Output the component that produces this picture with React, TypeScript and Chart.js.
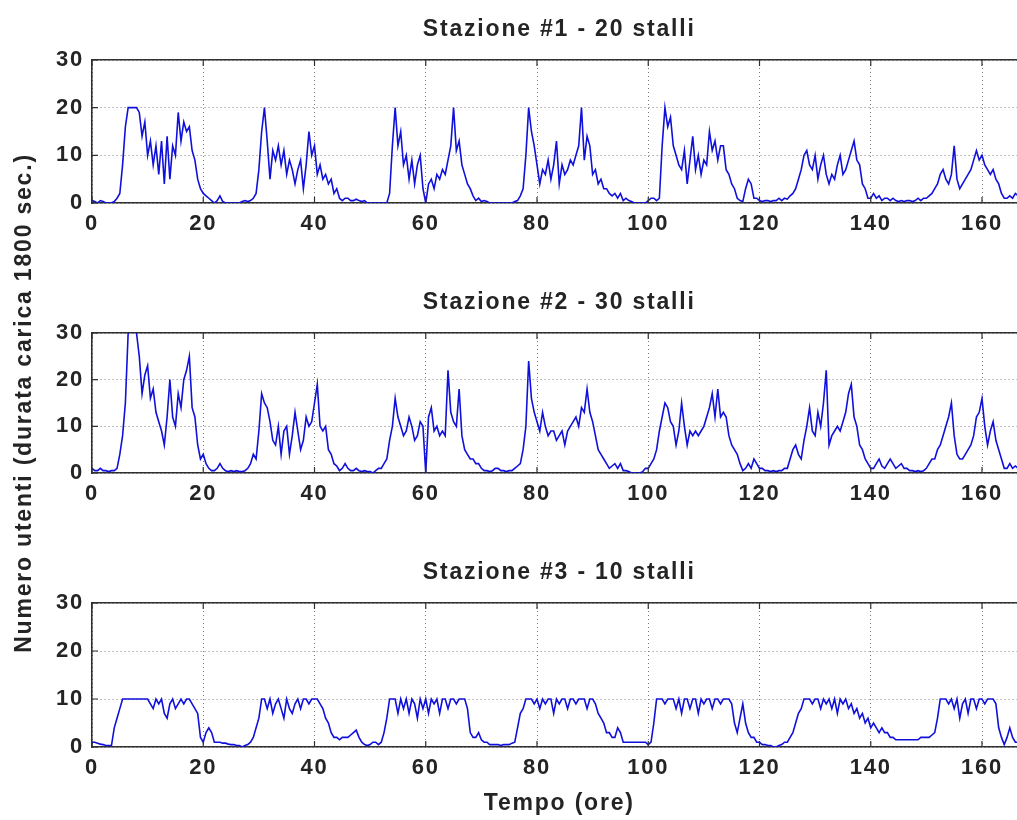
import React, { useEffect, useRef } from 'react';
import { Chart, registerables } from 'chart.js';

Chart.register(...registerables);

// ---------------- data ----------------
const STEP_H = 0.5; // sampling step of the series (hours)
const X_MAX = 168;
const X_STEP = 20;
const Y_MAX = 30;
const Y_STEP = 10;

const PANEL_TITLES = ['Stazione #1 - 20 stalli', 'Stazione #2 - 30 stalli', 'Stazione #3 - 10 stalli'];
const Y_LABEL = 'Numero utenti (durata carica 1800 sec.)';
const X_LABEL = 'Tempo (ore)';

const STATION1 = [
  0.5, 0.3, 0, 0.5, 0.3, 0, 0, 0, 0.3, 1, 2, 8, 16, 20, 20, 20, 20, 19, 14, 17, 10, 13, 8, 12,
  6, 13, 4, 14, 5, 12, 10, 19, 13, 17, 15, 16, 11, 9, 5, 3, 2, 1.5, 1, 0.5, 0, 0.5, 1.5, 0.3,
  0, 0, 0, 0, 0, 0, 0.3, 0.5, 0.3, 0.5, 1, 2, 7, 15, 20, 13, 5, 11, 9, 12, 8, 11, 6, 9,
  7, 4, 7, 9, 3, 8, 15, 10, 12, 6, 8, 5, 6, 4, 5, 2, 3, 1, 0.5, 1, 1, 0.5, 0.5, 0.8,
  0.5, 0.3, 0.5, 0, 0, 0, 0, 0, 0, 0, 0, 2, 12, 20, 12, 15, 8, 10, 5, 9, 4, 8, 10, 3,
  0, 4, 5, 3, 6, 5, 7, 6, 9, 12, 20, 11, 13, 8, 6, 4, 3, 1.5, 0.5, 1, 0.3, 0.5, 0.3, 0,
  0, 0, 0, 0, 0, 0, 0, 0, 0.3, 0.5, 1.5, 3, 10, 20, 15, 12, 8, 4, 7, 6, 9, 5, 8, 13,
  4, 8, 6, 7, 9, 8, 10, 12, 20, 9, 14, 12, 6, 7, 4, 5, 3, 3, 2, 1.5, 2, 1, 2, 0.5,
  1, 0.5, 0.3, 0, 0, 0, 0, 0, 0.5, 1, 1, 0.5, 1, 12, 20, 16, 18, 12, 10, 8, 7, 11, 4, 9,
  14, 7, 10, 6, 9, 8, 15, 11, 13, 9, 12, 12, 7, 6, 4, 3, 1, 0.5, 0.3, 3, 5, 4, 1, 1,
  0.5, 0.3, 0.5, 0.5, 0.3, 0.5, 0.5, 1, 0.5, 1, 0.8, 1.5, 2, 3, 5, 7, 10, 11, 8, 7, 10, 5, 8, 10,
  6, 4, 6, 5, 8, 10, 6, 7, 9, 11, 13, 9, 8, 4, 3, 1, 1, 2, 1, 1.5, 0.5, 1, 1, 0.5,
  1, 0.5, 0.3, 0.5, 0.3, 0.5, 0.5, 0.3, 0.5, 1, 0.5, 1, 1, 1.5, 2, 3, 4, 6, 7, 5, 4, 6, 12, 5,
  3, 4, 5, 6, 7, 9, 11, 9, 10, 8, 7, 6, 7, 5, 4, 2, 1, 1, 1.5, 1, 2, 1.5, 1, 0.5,
];

const STATION2 = [
  1, 0.5, 0.5, 1, 0.5, 0.5, 0.3, 0.5, 0.5, 1, 4, 8, 15, 30, 32, 31, 30, 25, 17, 21, 23, 16, 18, 13,
  11, 9, 6, 12, 20, 12, 10, 17, 14, 20, 22, 25, 14, 12, 6, 3, 4, 2, 1, 0.5, 0.5, 1, 2, 1,
  0.5, 0.3, 0.5, 0.3, 0.5, 0.3, 0.3, 0.5, 1, 2, 4, 3, 9, 17, 15, 14, 11, 7, 6, 10, 4, 9, 10, 4,
  8, 13, 9, 5, 7, 12, 10, 11, 15, 19, 10, 9, 10, 5, 4, 2, 1.5, 0.5, 1, 2, 1, 0.5, 0.5, 1,
  0.5, 0.3, 0.5, 0.3, 0.3, 0, 0.5, 1, 1, 2, 3, 7, 10, 16, 12, 10, 8, 9, 12, 10, 7, 8, 11, 10,
  0, 12, 14, 9, 10, 8, 9, 8, 22, 13, 11, 10, 18, 8, 5, 4, 3, 3, 2, 2, 1, 0.5, 0.5, 0.3,
  0.5, 1, 1, 0.5, 0.5, 0.3, 0.5, 0.5, 1, 1.5, 2, 5, 10, 24, 16, 13, 11, 9, 13, 10, 8, 9, 9, 7,
  8, 9, 6, 9, 10, 11, 12, 10, 14, 13, 18, 13, 11, 8, 5, 4, 3, 2, 1, 1.5, 2, 1, 2, 0.5,
  0.5, 0.3, 0, 0, 0, 0, 0.3, 1, 1, 2, 3, 5, 9, 12, 15, 14, 11, 10, 6, 9, 15, 10, 6, 9,
  8, 9, 8, 9, 10, 12, 14, 17, 12, 18, 12, 13, 12, 8, 6, 5, 4, 2, 0.5, 1, 2, 1, 3, 2,
  1, 1, 0.5, 0.5, 0.3, 0.5, 0.3, 0.5, 0.5, 1, 1, 3, 5, 6, 4, 3, 7, 10, 14, 9, 8, 13, 10, 15,
  22, 6, 8, 9, 10, 9, 11, 13, 17, 19, 12, 10, 6, 5, 3, 2, 1, 1, 2, 3, 1.5, 1, 2, 3,
  2, 1, 1.5, 2, 1, 1, 0.5, 0.5, 0.3, 0.5, 0.3, 0.5, 1, 2, 3, 3, 5, 6, 8, 10, 12, 15, 8, 4,
  3, 3, 4, 5, 6, 8, 12, 13, 16, 10, 6, 9, 11, 7, 5, 3, 1, 1, 2, 1, 1.5, 1, 1, 0.5,
];

const STATION3 = [
  1, 1, 0.8, 0.6, 0.5, 0.3, 0.3, 0.3, 4, 6, 8, 10, 10, 10, 10, 10, 10, 10, 10, 10, 10, 9, 8, 10,
  9, 10, 7, 6, 9, 10, 8, 9, 10, 9, 10, 10, 9, 8, 7, 2, 1, 3, 4, 3, 1, 1, 1, 0.8,
  0.8, 0.6, 0.5, 0.5, 0.3, 0.3, 0, 0.3, 0.5, 1, 2, 4, 6, 10, 10, 8, 10, 7, 9, 10, 8, 6, 10, 8,
  7, 9, 10, 8, 10, 10, 9, 10, 10, 10, 9, 8, 6, 5, 3, 2, 2, 1.5, 2, 2, 2, 2.5, 3, 3.5,
  2, 1, 0.5, 0.3, 0.5, 1, 1, 0.5, 1, 3, 6, 10, 10, 10, 7, 10, 8, 10, 7, 10, 9, 6, 10, 8,
  10, 7, 10, 9, 10, 7, 10, 10, 8, 10, 10, 9, 10, 10, 10, 8, 3, 2, 2, 3, 1.5, 1, 1, 0.5,
  0.5, 0.5, 0.5, 0.3, 0.5, 0.5, 0.5, 0.8, 1, 4, 7, 8, 10, 10, 10, 9, 10, 8, 10, 9, 10, 10, 7, 10,
  9, 10, 10, 8, 10, 10, 9, 10, 10, 10, 8, 10, 10, 9, 7, 6, 5, 3, 3, 2, 2, 4, 3, 1,
  1, 1, 1, 1, 1, 1, 1, 1, 0.5, 1, 5, 10, 10, 10, 9, 10, 10, 10, 8, 10, 7, 10, 10, 8,
  10, 10, 7, 10, 9, 10, 10, 8, 10, 10, 9, 10, 10, 10, 9, 5, 3, 6, 9, 5, 3, 2, 2, 1,
  1, 0.5, 0.5, 0.3, 0.3, 0, 0, 0.3, 0.5, 1, 1, 2, 3, 5, 7, 8, 10, 10, 10, 9, 10, 10, 8, 10,
  9, 10, 8, 10, 7, 10, 9, 10, 8, 9, 7, 8, 6, 7, 5, 6, 4, 5, 4, 3, 4, 3, 3, 2,
  2, 1.5, 1.5, 1.5, 1.5, 1.5, 1.5, 1.5, 1.5, 1.5, 2, 2, 2, 2, 2.5, 3, 6, 10, 10, 10, 9, 10, 8, 10,
  6, 9, 10, 7, 10, 10, 8, 10, 10, 9, 10, 10, 10, 9, 4, 2, 0.5, 2, 4, 2, 1, 1, 0.5, 0.5,
];

const SERIES = [STATION1, STATION2, STATION3];

// ---------------- style / layout ----------------
const FONT = "'Liberation Sans', Arial, Helvetica, sans-serif";
const FONT_WEIGHT = 'bold';
const LABEL_SIZE = 23;
const TICK_SIZE = 22;
const LETTER_SPACING = '1.8px';
const INK = '#242424';
const AXIS = '#303030';
const GRID = '#7a7a7a';
const TRACE = '#1010dc';
const CANVAS_W = 1040;
const AREA_RIGHT = 1026.5;
const Y_AXIS_W = 92;
const TOP_BAND = 60;

type Layout = {
  top: number;
  height: number;
  padTop: number;
  padBottom: number;
  bottomAxisH: number;
  showY: boolean;
  showX: boolean;
};

const LAYOUTS: Layout[] = [
  { top: 0, height: 235, padTop: 0, padBottom: 0, bottomAxisH: 32, showY: false, showX: false },
  { top: 140, height: 530, padTop: 133, padBottom: 165, bottomAxisH: 32, showY: true, showX: false },
  { top: 543, height: 277, padTop: 0, padBottom: 0, bottomAxisH: 73, showY: false, showX: true },
];

const spacingPlugin = {
  id: 'letterSpacing',
  beforeUpdate(c: any) {
    c.ctx.letterSpacing = LETTER_SPACING;
  },
  beforeDraw(c: any) {
    c.ctx.letterSpacing = LETTER_SPACING;
  },
};

const innerTicksPlugin = {
  id: 'innerTicks',
  afterDatasetsDraw(c: any) {
    const { ctx, chartArea: a, scales } = c;
    const len = 6;
    ctx.save();
    ctx.strokeStyle = AXIS;
    ctx.lineWidth = 1.2;
    ctx.beginPath();
    scales.x.ticks.forEach((t: any) => {
      const px = scales.x.getPixelForValue(t.value);
      ctx.moveTo(px, a.bottom);
      ctx.lineTo(px, a.bottom - len);
      ctx.moveTo(px, a.top);
      ctx.lineTo(px, a.top + len);
    });
    scales.y.ticks.forEach((t: any) => {
      const py = scales.y.getPixelForValue(t.value);
      ctx.moveTo(a.left, py);
      ctx.lineTo(a.left + len, py);
    });
    ctx.stroke();
    ctx.restore();
  },
};

function buildConfig(i: number): any {
  const lay = LAYOUTS[i];
  const values = SERIES[i];
  const labelFont = { family: FONT, size: LABEL_SIZE, weight: FONT_WEIGHT };
  const tickFont = { family: FONT, size: TICK_SIZE, weight: FONT_WEIGHT };
  return {
    type: 'line',
    data: {
      datasets: [
        {
          data: values.map((v, k) => ({ x: k * STEP_H, y: v })),
          xAxisID: 'x',
          yAxisID: 'y',
          borderColor: TRACE,
          borderWidth: 1.6,
          pointRadius: 0,
          tension: 0,
          fill: false,
        },
      ],
    },
    options: {
      responsive: false,
      animation: false,
      events: [],
      layout: { padding: { left: 0, right: CANVAS_W - AREA_RIGHT, top: lay.padTop, bottom: lay.padBottom } },
      plugins: { legend: { display: false }, tooltip: { enabled: false }, title: { display: false } },
      scales: {
        x: {
          type: 'linear',
          position: 'bottom',
          min: 0,
          max: X_MAX,
          afterFit: (s: any) => {
            s.height = lay.bottomAxisH;
          },
          ticks: {
            stepSize: X_STEP,
            includeBounds: false,
            autoSkip: false,
            maxRotation: 0,
            padding: 8,
            color: INK,
            font: tickFont,
          },
          grid: { color: GRID, lineWidth: 1, drawTicks: false },
          border: { display: true, color: AXIS, width: 1.6, dash: [1, 3] },
          title: {
            display: lay.showX,
            text: X_LABEL,
            color: INK,
            font: labelFont,
            padding: { top: 0, bottom: 3 },
          },
        },
        xTop: {
          type: 'linear',
          position: 'top',
          min: 0,
          max: X_MAX,
          afterFit: (s: any) => {
            s.height = TOP_BAND;
          },
          ticks: { display: false },
          grid: { display: false, drawTicks: false },
          border: { display: true, color: AXIS, width: 1.6 },
          title: {
            display: true,
            text: PANEL_TITLES[i],
            color: INK,
            font: labelFont,
            padding: { top: 16, bottom: 16.4 },
          },
        },
        y: {
          type: 'linear',
          position: 'left',
          min: 0,
          max: Y_MAX,
          afterFit: (s: any) => {
            s.width = Y_AXIS_W;
          },
          ticks: { stepSize: Y_STEP, padding: 8, color: INK, font: tickFont },
          grid: { color: GRID, lineWidth: 1, drawTicks: false },
          border: { display: true, color: AXIS, width: 1.6, dash: [1, 3] },
          title: {
            display: lay.showY,
            text: Y_LABEL,
            color: INK,
            font: labelFont,
            padding: { top: 11, bottom: 0 },
          },
        },
      },
    },
    plugins: [spacingPlugin, innerTicksPlugin],
  };
}

export default function App() {
  const r1 = useRef<HTMLCanvasElement>(null);
  const r2 = useRef<HTMLCanvasElement>(null);
  const r3 = useRef<HTMLCanvasElement>(null);
  const refs = [r1, r2, r3];

  useEffect(() => {
    const charts = refs.map((r, i) => new Chart(r.current as HTMLCanvasElement, buildConfig(i)));
    return () => charts.forEach((c) => c.destroy());
  }, []);

  return (
    <div
      style={{
        position: 'absolute',
        left: 0,
        top: 0,
        width: 1017,
        height: 820,
        overflow: 'hidden',
        background: '#fff',
      }}
    >
      {LAYOUTS.map((l, i) => (
        <canvas
          key={i}
          ref={refs[i]}
          width={CANVAS_W}
          height={l.height}
          style={{ position: 'absolute', left: 0, top: l.top, width: CANVAS_W, height: l.height }}
        />
      ))}
    </div>
  );
}
